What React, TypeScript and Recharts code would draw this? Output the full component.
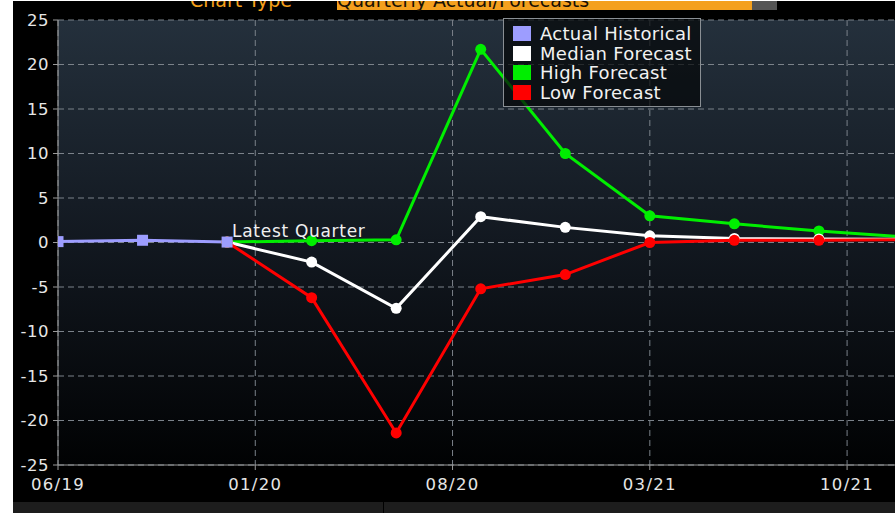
import React from 'react';
import { LineChart, Line, XAxis, YAxis, CartesianGrid, ReferenceDot } from 'recharts';

// Months since 06/19, one point per quarter
const months = [0, 3, 6, 9, 12, 15, 18, 21, 24, 27, 30];
const actualHistorical = [0.1, 0.25, 0.05, null, null, null, null, null, null, null, null];
const medianForecast = [null, null, 0.05, -2.2, -7.4, 2.9, 1.7, 0.75, 0.45, 0.4, 0.35];
const highForecast = [null, null, 0.05, 0.2, 0.3, 21.7, 10.0, 3.0, 2.1, 1.3, 0.65];
const lowForecast = [null, null, 0.05, -6.2, -21.4, -5.2, -3.6, 0.0, 0.25, 0.25, 0.3];

const xTickMonths = [0, 7, 14, 21, 28];
const xTickLabels = ['06/19', '01/20', '08/20', '03/21', '10/21'];
const yTicks = [-25, -20, -15, -10, -5, 0, 5, 10, 15, 20, 25];

const seriesNames = ['Actual Historical', 'Median Forecast', 'High Forecast', 'Low Forecast'];
const seriesColors = ['#9d9dff', '#ffffff', '#00ee00', '#ff0000'];

const data = months.map((m, i) => ({
  m,
  actual: actualHistorical[i],
  median: medianForecast[i],
  high: highForecast[i],
  low: lowForecast[i],
}));

const FONT = '"DejaVu Sans", Verdana, sans-serif';

const SquareDot = (p: any) => {
  if (p.cx == null || p.cy == null || p.value == null) return <g key={`sq${p.index}`} />;
  return <rect key={`sq${p.index}`} x={p.cx - 5.5} y={p.cy - 5.5} width={11} height={11} fill={seriesColors[0]} />;
};

const xFmt = (v: number) => {
  const i = xTickMonths.indexOf(v);
  return i >= 0 ? xTickLabels[i] : '';
};

export default function App() {
  return (
    <div style={{ position: 'absolute', left: 0, top: 0, width: 895, height: 513, background: '#ffffff', overflow: 'hidden' }}>
      <div style={{ position: 'absolute', left: 13, top: 1, width: 882, height: 512, background: '#000000', overflow: 'hidden' }}>
        {/* cut-off title strip */}
        <div style={{ position: 'absolute', left: 0, top: 0, width: 882, height: 10, overflow: 'hidden' }}>
          <div style={{ position: 'absolute', top: -11, left: 177, fontFamily: FONT, fontSize: 19, color: '#f5a01c', whiteSpace: 'nowrap', lineHeight: '20px' }}>Chart Type</div>
          <div style={{ position: 'absolute', top: -11, left: 324, width: 415, height: 20, background: '#f4a01e', fontFamily: FONT, fontSize: 19, color: '#1a1205', whiteSpace: 'nowrap', lineHeight: '20px' }}>Quarterly Actual/Forecasts</div>
          <div style={{ position: 'absolute', top: -11, left: 739, width: 25, height: 20, background: '#555555' }} />
        </div>
        <LineChart width={882} height={501} data={data} margin={{ top: 19, right: 0, bottom: 0, left: 0 }}>
          <defs>
            <linearGradient id="bgGrad" x1="0" y1="0" x2="0" y2="1">
              <stop offset="0%" stopColor="#24303c" />
              <stop offset="50%" stopColor="#121820" />
              <stop offset="100%" stopColor="#010203" />
            </linearGradient>
          </defs>
          <CartesianGrid fill="url(#bgGrad)" stroke="#7b828a" strokeDasharray="6 4" strokeWidth={1} horizontalValues={yTicks} verticalValues={xTickMonths} />
          <XAxis
            type="number"
            dataKey="m"
            domain={[0, 29.7]}
            allowDataOverflow
            ticks={xTickMonths}
            tickFormatter={xFmt}
            height={37}
            stroke="#9a9a9a"
            tickSize={5}
            tickMargin={8}
            tick={{ fill: '#e6e6e6', fontSize: 16.5, fontFamily: FONT, letterSpacing: 1.3 }}
          />
          <YAxis
            type="number"
            domain={[-25, 25]}
            ticks={yTicks}
            width={45}
            stroke="#9a9a9a"
            tickSize={5}
            tickMargin={4}
            interval={0}
            tick={{ fill: '#e6e6e6', fontSize: 16.5, fontFamily: FONT, letterSpacing: 0.5 }}
          />
          <Line dataKey="high" stroke={seriesColors[2]} strokeWidth={3} dot={{ r: 5.5, fill: seriesColors[2], stroke: 'none' }} isAnimationActive={false} />
          <Line dataKey="median" stroke={seriesColors[1]} strokeWidth={3} dot={{ r: 5.5, fill: seriesColors[1], stroke: 'none' }} isAnimationActive={false} />
          <Line dataKey="low" stroke={seriesColors[3]} strokeWidth={3} dot={{ r: 5.5, fill: seriesColors[3], stroke: 'none' }} isAnimationActive={false} />
          <Line dataKey="actual" stroke={seriesColors[0]} strokeWidth={3} dot={SquareDot} isAnimationActive={false} />
          <ReferenceDot
            x={6}
            y={0}
            r={0}
            fill="none"
            stroke="none"
            label={{
              content: (p: any) => {
                const vb = p.viewBox || {};
                const x = (vb.x ?? 0) + (vb.width ?? 0) / 2;
                const y = (vb.y ?? 0) + (vb.height ?? 0) / 2;
                return (
                  <text x={x + 5} y={y - 6} fill="#f0f0f0" fontSize={17} fontFamily={FONT} letterSpacing={0.7}>
                    Latest Quarter
                  </text>
                );
              },
            }}
          />
        </LineChart>
        {/* legend */}
        <div style={{ position: 'absolute', left: 490, top: 17, width: 198, height: 89, border: '1px solid #8a8f94', background: 'rgba(6,8,10,0.72)', boxSizing: 'border-box' }}>
          {seriesNames.map((n, i) => (
            <div key={n} style={{ position: 'absolute', left: 9, top: 5 + i * 19.5, height: 19, display: 'flex', alignItems: 'center' }}>
              <div style={{ width: 18, height: 15, background: seriesColors[i] }} />
              <div style={{ marginLeft: 9, fontFamily: FONT, fontSize: 18, letterSpacing: 0.3, color: '#f2f2f2', whiteSpace: 'nowrap', lineHeight: '19px' }}>{n}</div>
            </div>
          ))}
        </div>
        {/* bottom bar */}
        <div style={{ position: 'absolute', left: 0, top: 501, width: 370, height: 11, background: '#1d1d1d' }} />
        <div style={{ position: 'absolute', left: 371, top: 501, width: 511, height: 11, background: '#1d1d1d' }} />
      </div>
    </div>
  );
}
